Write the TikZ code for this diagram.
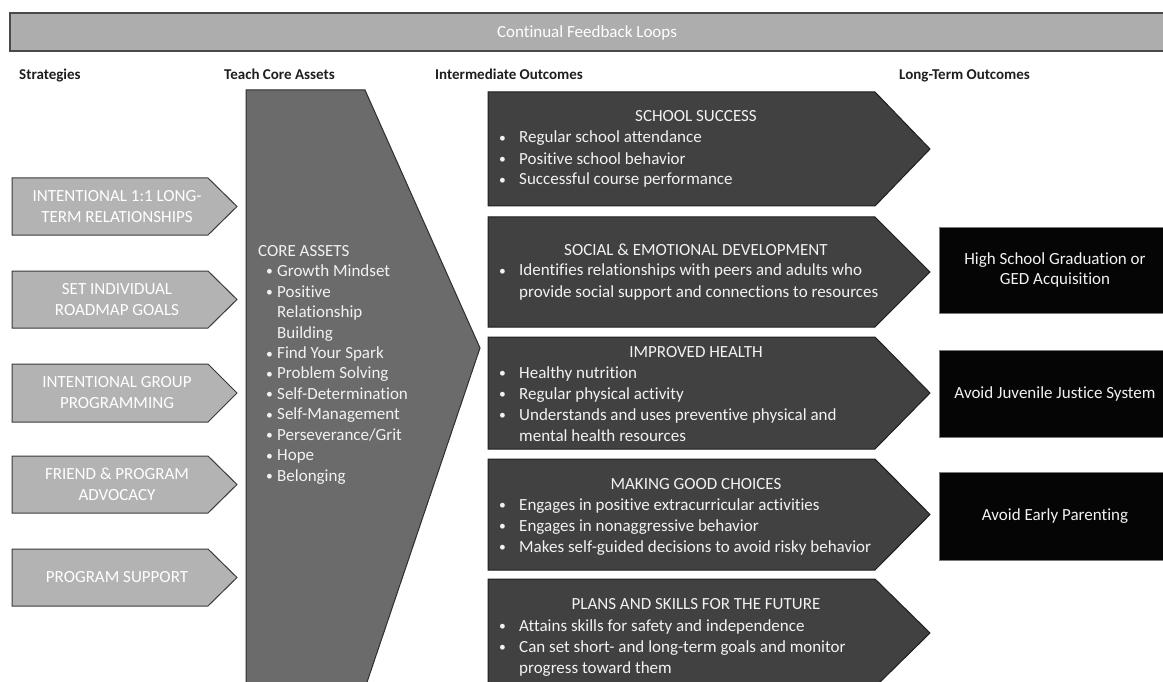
\documentclass[tikz,border=0pt]{standalone}
\usepackage{fontspec}
\setmainfont{Carlito}[Ligatures=NoCommon]
\definecolor{barfill}{HTML}{ADADAD}
\definecolor{bardraw}{HTML}{4A4A4A}
\definecolor{stratfill}{HTML}{B3B3B3}
\definecolor{stratdraw}{HTML}{3A3A3A}
\definecolor{corefill}{HTML}{6B6B6B}
\definecolor{coredraw}{HTML}{2E2E2E}
\definecolor{interfill}{HTML}{414141}
\definecolor{interdraw}{HTML}{1E1E1E}
\definecolor{ltfill}{HTML}{050505}
\definecolor{ltdraw}{HTML}{7A7A7A}
\definecolor{lightc}{HTML}{F2F2F2}
\definecolor{headc}{HTML}{1E1E1E}
\newcommand\bdot{\raisebox{0.5pt}{\scalebox{0.8}{\textbullet}}}
\newcommand\bl{\makebox[21.5pt][l]{\hspace*{1.5pt}\bdot}}
\newcommand\bc{\hspace*{21.5pt}}
\newcommand\cbl{\hspace*{8pt}\makebox[11pt][l]{\bdot}}
\newcommand\cbc{\hspace*{19pt}}
\begin{document}
\begin{tikzpicture}[x=1pt,y=-1pt,
  bar/.style={fill=barfill,draw=bardraw,line width=1.2pt},
  strat/.style={fill=stratfill,draw=stratdraw,line width=1pt},
  core/.style={fill=corefill,draw=coredraw,line width=1pt},
  inter/.style={fill=interfill,draw=interdraw,line width=1pt},
  ltbox/.style={fill=ltfill,draw=ltdraw,line width=0.8pt},
  txt/.style={font=\fontsize{17}{21}\selectfont,inner sep=0pt,text=lightc},
  stxt/.style={txt,text=white,align=center},
  head/.style={font=\bfseries\fontsize{15}{18}\selectfont,text=headc,inner sep=0pt,anchor=base west}]
\useasboundingbox (0,0) rectangle (1163,682);

% top bar
\draw[bar] (10,13) rectangle (1175,51);
\node[txt,text=white,anchor=base] (fb) at (587,38) {Continual Feedback Loops};

% headers
\node[head] (h1) at (19,80) {Strategies};
\node[head] (h2) at (224,80) {Teach Core Assets};
\node[head] (h3) at (435,80) {Intermediate Outcomes};
\node[head] (h4) at (899,80) {Long-Term Outcomes};

% strategies
\foreach \t/\b/\nm/\tx in {
  178/235/s1/{INTENTIONAL 1:1 LONG-\\TERM RELATIONSHIPS},
  271/328/s2/{SET INDIVIDUAL\\ROADMAP GOALS},
  364/422/s3/{INTENTIONAL GROUP\\PROGRAMMING},
  456/513/s4/{FRIEND \& PROGRAM\\ADVOCACY},
  549/606/s5/{PROGRAM SUPPORT}}{
  \pgfmathsetmacro\m{(\t+\b)/2}
  \draw[strat] (12,\t) -- (208,\t) -- (237,\m) -- (208,\b) -- (12,\b) -- cycle;
  \node[stxt] (\nm) at (117,\m) {\tx};
}

% core assets
\draw[core] (246,700) -- (246,90) -- (365,90) -- (480,348) -- (361,700) -- cycle;
\node[txt,anchor=base west,font=\fontsize{17}{20.5}\selectfont] (ca) at (258,256) {\begin{tabular}[t]{@{}l@{}}
CORE ASSETS\\
\cbl Growth Mindset\\
\cbl Positive\\
\cbc Relationship\\
\cbc Building\\
\cbl Find Your Spark\\
\cbl Problem Solving\\
\cbl Self-Determination\\
\cbl Self-Management\\
\cbl Perseverance/Grit\\
\cbl Hope\\
\cbl Belonging
\end{tabular}};

% intermediate outcomes
\foreach \t/\b in {92/206,217/327,337/449,459/570,579/687}{
  \pgfmathsetmacro\m{(\t+\b)/2}
  \draw[inter] (488,\t) -- (875,\t) -- (930,\m) -- (875,\b) -- (488,\b) -- cycle;
}
\node[txt,anchor=base] (t1) at (696,122) {SCHOOL SUCCESS};
\node[txt,anchor=base west] (l1) at (497.5,143) {\begin{tabular}[t]{@{}l@{}}
\bl Regular school attendance\\
\bl Positive school behavior\\
\bl Successful course performance
\end{tabular}};
\node[txt,anchor=base] (t2) at (696,255) {SOCIAL \& EMOTIONAL DEVELOPMENT};
\node[txt,anchor=base west] (l2) at (497.5,276) {\begin{tabular}[t]{@{}l@{}}
\bl Identifies relationships with peers and adults who\\
\bc provide social support and connections to resources
\end{tabular}};
\node[txt,anchor=base] (t3) at (696,357) {IMPROVED HEALTH};
\node[txt,anchor=base west] (l3) at (497.5,378) {\begin{tabular}[t]{@{}l@{}}
\bl Healthy nutrition\\
\bl Regular physical activity\\
\bl Understands and uses preventive physical and\\
\bc mental health resources
\end{tabular}};
\node[txt,anchor=base] (t4) at (696,489) {MAKING GOOD CHOICES};
\node[txt,anchor=base west] (l4) at (497.5,510) {\begin{tabular}[t]{@{}l@{}}
\bl Engages in positive extracurricular activities\\
\bl Engages in nonaggressive behavior\\
\bl Makes self-guided decisions to avoid risky behavior
\end{tabular}};
\node[txt,anchor=base] (t5) at (696,609) {PLANS AND SKILLS FOR THE FUTURE};
\node[txt,anchor=base west] (l5) at (497.5,631) {\begin{tabular}[t]{@{}l@{}}
\bl Attains skills for safety and independence\\
\bl Can set short- and long-term goals and monitor\\
\bc progress toward them
\end{tabular}};

% long-term outcomes
\draw[ltbox] (939,227) rectangle (1172,313);
\draw[ltbox] (939,350) rectangle (1172,437);
\draw[ltbox] (939,472) rectangle (1172,560);
\node[txt,align=center,font=\fontsize{17}{20}\selectfont] (o1) at (1055,270) {High School Graduation or\\GED Acquisition};
\node[txt] (o2) at (1055,393.5) {Avoid Juvenile Justice System};
\node[txt] (o3) at (1055,516) {Avoid Early Parenting};
\end{tikzpicture}
\end{document}
